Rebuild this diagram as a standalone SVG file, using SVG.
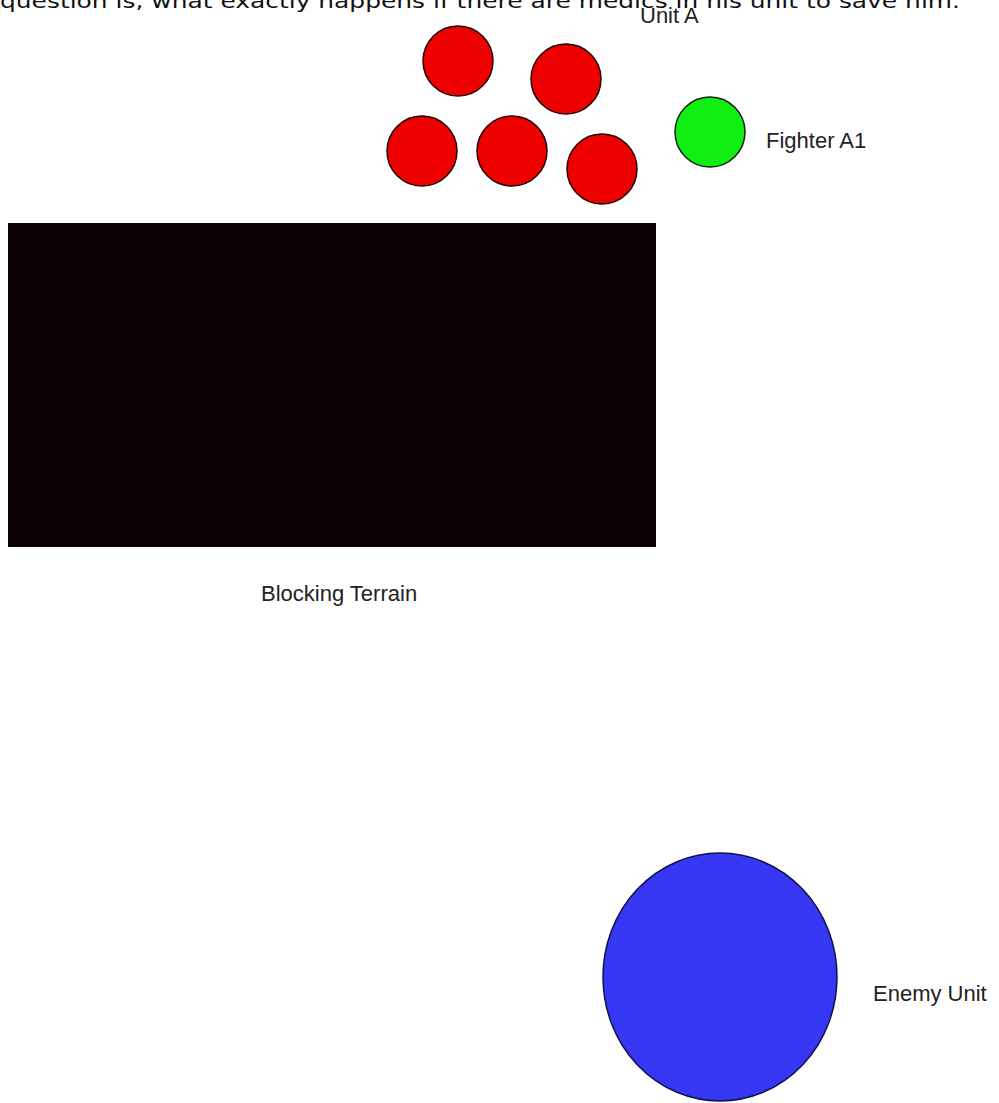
<svg xmlns="http://www.w3.org/2000/svg" width="999" height="1103" viewBox="0 0 999 1103">
<style>
.lbl{font-family:"Liberation Sans",Arial,sans-serif;font-size:22px;fill:#222}
.top{font-family:"DejaVu Sans",Verdana,sans-serif;font-size:20px;fill:#111}
.red{fill:#ee0000;stroke:#220000;stroke-width:1.5}
</style>
<rect width="999" height="1103" fill="#ffffff"/>
<text class="top" x="0" y="8" textLength="960" lengthAdjust="spacingAndGlyphs">question is, what exactly happens if there are medics in his unit to save him.</text>
<g id="unit-a">
<circle class="red" cx="458" cy="61" r="35"/>
<circle class="red" cx="566" cy="79" r="35"/>
<circle class="red" cx="422" cy="151" r="35"/>
<circle class="red" cx="512" cy="151" r="35"/>
<circle class="red" cx="602" cy="169" r="35"/>
<text class="lbl" x="640" y="23">Unit A</text>
</g>
<g id="fighter-a1">
<circle cx="710" cy="132" r="35" fill="#11ee11" stroke="#112211" stroke-width="1.5"/>
<text class="lbl" x="766" y="148">Fighter A1</text>
</g>
<g id="blocking-terrain">
<rect x="8" y="223" width="648" height="324" fill="#0d0003"/>
<text class="lbl" x="261" y="601">Blocking Terrain</text>
</g>
<g id="enemy-unit">
<ellipse cx="720" cy="977" rx="117" ry="124" fill="#3636f5" stroke="#10104a" stroke-width="1.5"/>
<text class="lbl" x="873" y="1001">Enemy Unit</text>
</g>
<g id="connectors"/>
</svg>
